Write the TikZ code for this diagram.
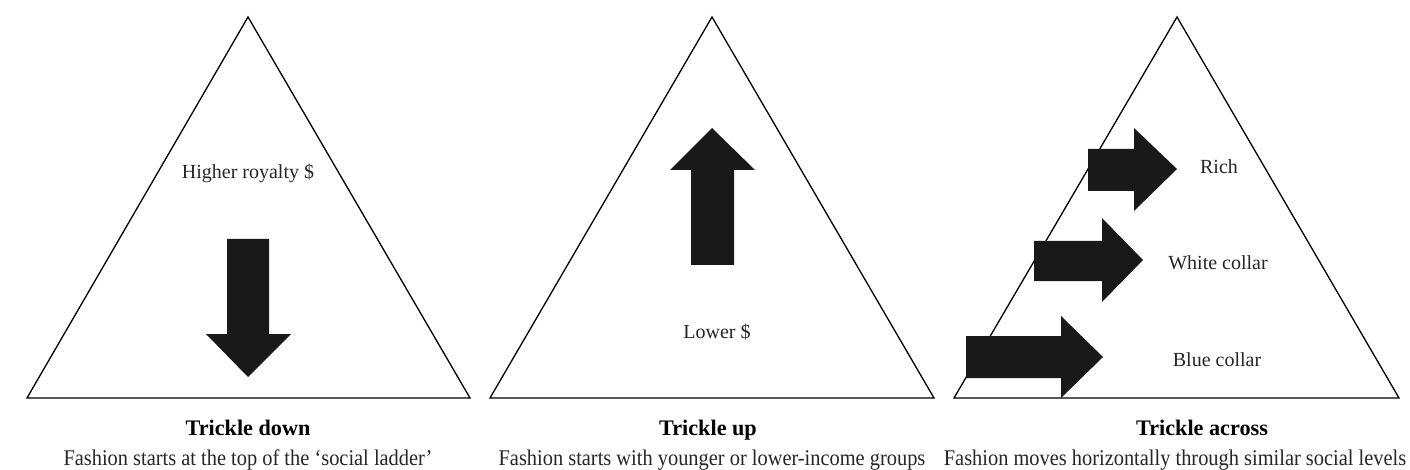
\documentclass[tikz,border=0pt]{standalone}
\usepackage{fontspec}
\setmainfont{Liberation Serif}
\begin{document}
\begin{tikzpicture}[x=1pt,y=-1pt,
  tri/.style={draw=black,line width=1.3pt,line join=miter},
  bigarrow/.style={fill=black!90,draw=none},
  lbl/.style={font=\fontsize{20}{24}\selectfont,inner sep=0pt,text=black!85},
  headtxt/.style={font=\fontsize{22.2}{26}\selectfont\bfseries,inner sep=0pt,anchor=base},
  subtxt/.style={font=\fontsize{20.4}{25}\selectfont,inner sep=0pt,anchor=base,text=black!85,yscale=1.1}]
\useasboundingbox[fill=white] (0,0) rectangle (1410,470);

% triangles
\draw[tri] (27,398) -- (248,17) -- (470,398) -- cycle;
\draw[tri] (490,398) -- (712,17) -- (934,398) -- cycle;
\draw[tri] (954,398) -- (1177,17) -- (1399,398) -- cycle;

% trickle down arrow
\fill[bigarrow] (227,239) -- (269,239) -- (269,334) -- (291,334) -- (248,377) -- (206,334) -- (227,334) -- cycle;
% trickle up arrow
\fill[bigarrow] (712,128) -- (755,170) -- (734,170) -- (734,265) -- (691,265) -- (691,170) -- (670,170) -- cycle;
% trickle across arrows
\fill[bigarrow] (1088,149) -- (1134,149) -- (1134,128) -- (1177,169) -- (1134,211) -- (1134,191) -- (1088,191) -- cycle;
\fill[bigarrow] (1034,241) -- (1102,241) -- (1102,218) -- (1143,260) -- (1102,302) -- (1102,281) -- (1034,281) -- cycle;
\fill[bigarrow] (966,336) -- (1061,336) -- (1061,316) -- (1103,357) -- (1061,398) -- (1061,378) -- (966,378) -- cycle;

% labels
\node[lbl] (higher) at (248,173) {Higher royalty \$};
\node[lbl] (lower) at (717,332) {Lower \$};
\node[lbl] (rich) at (1219,167) {Rich};
\node[lbl] (white) at (1218,263) {White collar};
\node[lbl] (blue) at (1217,360) {Blue collar};

% captions
\node[headtxt] (h1) at (248,435) {Trickle down};
\node[headtxt] (h2) at (708,435) {Trickle up};
\node[headtxt] (h3) at (1202,435) {Trickle across};
\node[subtxt] (s1) at (248,465) {Fashion starts at the top of the ‘social ladder’};
\node[subtxt] (s2) at (712,465) {Fashion starts with younger or lower-income groups};
\node[subtxt] (s3) at (1175,465) {Fashion moves horizontally through similar social levels};
\end{tikzpicture}
\end{document}
